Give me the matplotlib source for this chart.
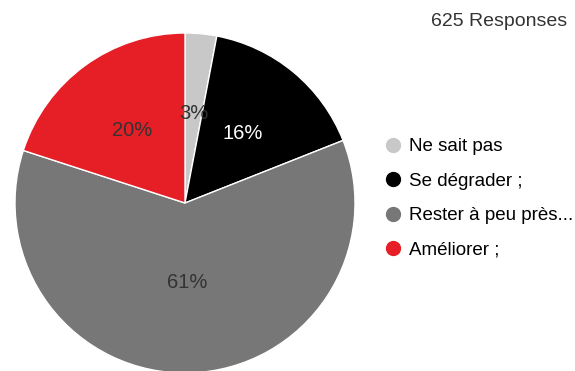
import matplotlib
matplotlib.use("Agg")
import matplotlib.pyplot as plt
from matplotlib.lines import Line2D

plt.rcParams['font.family'] = ['Liberation Sans', 'DejaVu Sans']

labels = ["Ne sait pas", "Se dégrader ;", "Rester à peu près...", "Améliorer ;"]
shares = [3, 16, 61, 20]
colors = ["#c8c8c8", "#000000", "#777777", "#e61e26"]
pct_colors = ["#333333", "#ffffff", "#333333", "#333333"]
total_responses = 625

W, H = 575, 371
fig = plt.figure(figsize=(W / 100, H / 100), dpi=100)
ax = fig.add_axes([0, 0, 1, 1])

wedges, texts, autotexts = ax.pie(
    shares, colors=colors, startangle=90, counterclock=False,
    radius=1.0, autopct=lambda p: f"{p:.0f}%", pctdistance=0.53,
    wedgeprops=dict(edgecolor="white", linewidth=1.0),
    textprops=dict(fontsize=14.5),
)
for t, c in zip(autotexts, pct_colors):
    t.set_color(c)
# the large slice's label sits a little closer to the centre
x, y = autotexts[2].get_position()
autotexts[2].set_position((x * 0.88, y * 0.88))

# pie centre (185, 203) px, radius 170 px
cx, cy, r = 185, 203, 170
ax.set_xlim(-cx / r, (W - cx) / r)
ax.set_ylim(-(H - cy) / r, cy / r)
ax.set_aspect("equal")
ax.axis("off")

handles = [Line2D([], [], marker="o", linestyle="", markersize=10,
                  markerfacecolor=c, markeredgecolor=c) for c in colors]
fig.legend(handles, labels, loc="upper left", bbox_to_anchor=(385 / W, 1 - 138 / H),
           frameon=False, fontsize=13.5, labelspacing=0.93, handletextpad=0.5,
           handlelength=0.8, borderaxespad=0, borderpad=0)

fig.text(567 / W, 1 - 22 / H, f"{total_responses} Responses", ha="right", va="center",
         fontsize=14, color="#333333")

fig.savefig("out.png", dpi=100)
